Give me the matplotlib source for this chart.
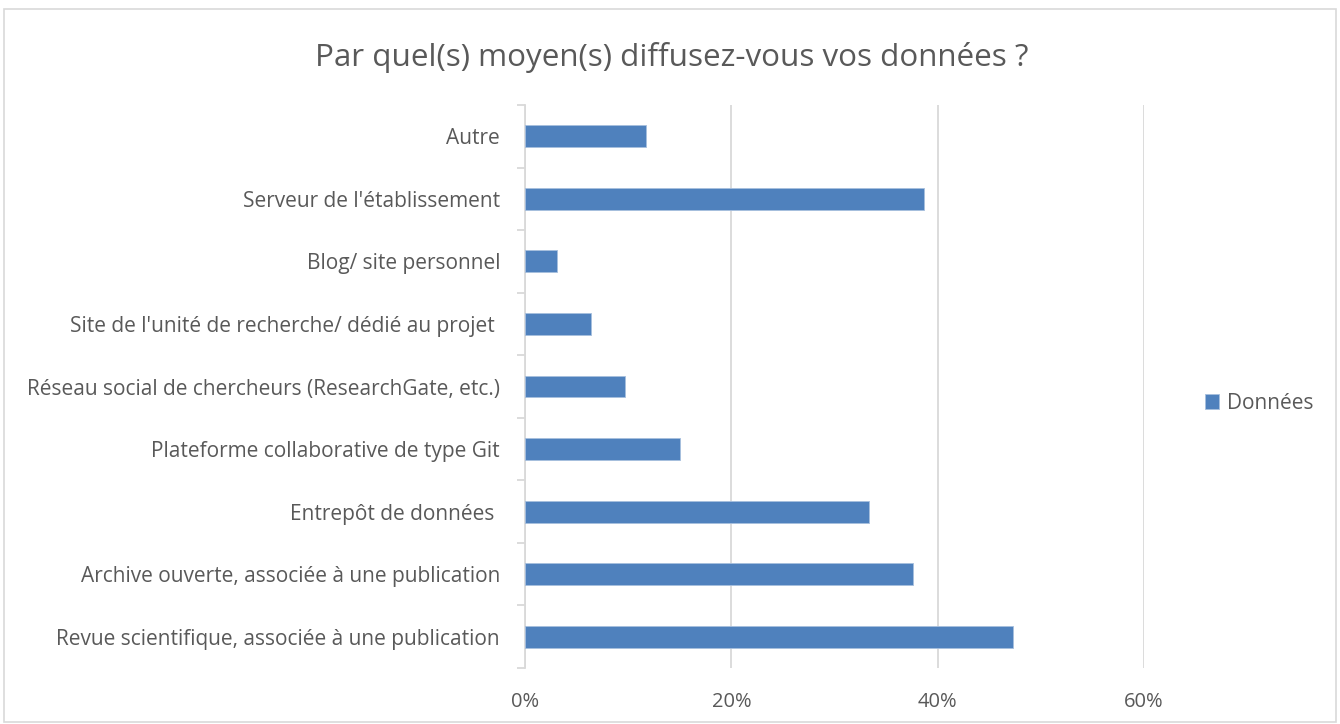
import matplotlib.pyplot as plt
import numpy as np
from matplotlib.patches import Rectangle
from matplotlib.ticker import FuncFormatter

plt.rcParams['font.family'] = ['Open Sans', 'DejaVu Sans']

categories = [
    "Revue scientifique, associée à une publication",
    "Archive ouverte, associée à une publication",
    "Entrepôt de données ",
    "Plateforme collaborative de type Git",
    "Réseau social de chercheurs (ResearchGate, etc.)",
    "Site de l'unité de recherche/ dédié au projet ",
    "Blog/ site personnel",
    "Serveur de l'établissement",
    "Autre",
]
values = [0.473, 0.376, 0.333, 0.150, 0.097, 0.064, 0.031, 0.387, 0.117]
series_name = "Données"

grey = '#595959'
blue = '#4f81bd'

fig = plt.figure(figsize=(13.4, 7.24), dpi=100)
ax = fig.add_axes([0.3918, 0.0773, 0.8537 - 0.3918, 0.855 - 0.0773])

y = np.arange(len(categories))
ax.barh(y, values, height=0.35, color=blue, edgecolor='#a7bfde', linewidth=0.6,
        label=series_name, zorder=3)

ax.set_xlim(0, 0.6)
ax.set_ylim(-0.5, len(categories) - 0.5)
ax.set_xticks([0, 0.2, 0.4, 0.6])
ax.xaxis.set_major_formatter(FuncFormatter(lambda v, p: f"{v * 100:.0f}%"))
ax.grid(axis='x', color='#d9d9d9', linewidth=1.3, zorder=0)
ax.tick_params(axis='x', length=0, pad=17, labelsize=14.5, colors=grey)

ax.set_yticks(y)
ax.set_yticklabels(categories)
ax.set_yticks(np.arange(-0.5, len(categories)), minor=True)
ax.tick_params(axis='y', which='major', length=0, pad=18, labelsize=15, colors=grey)
ax.tick_params(axis='y', which='minor', length=6, width=1.3, color='#d9d9d9')

for s in ['top', 'right', 'bottom']:
    ax.spines[s].set_visible(False)
ax.spines['left'].set_color('#d9d9d9')
ax.spines['left'].set_linewidth(1.3)

fig.text(0.5015, 0.92, "Par quel(s) moyen(s) diffusez-vous vos données ?",
         ha='center', va='center', fontsize=22.6, color=grey)

fig.legend(loc='center left', bbox_to_anchor=(0.885, 0.443), frameon=False,
           fontsize=15, handlelength=0.7, handleheight=0.7, handletextpad=0.35,
           labelcolor=grey)

fig.patches.append(Rectangle((0.003, 0.003), 0.994, 0.984, transform=fig.transFigure,
                             fill=False, edgecolor='#d9d9d9', linewidth=1.2))

fig.savefig('out.png', dpi=100)
